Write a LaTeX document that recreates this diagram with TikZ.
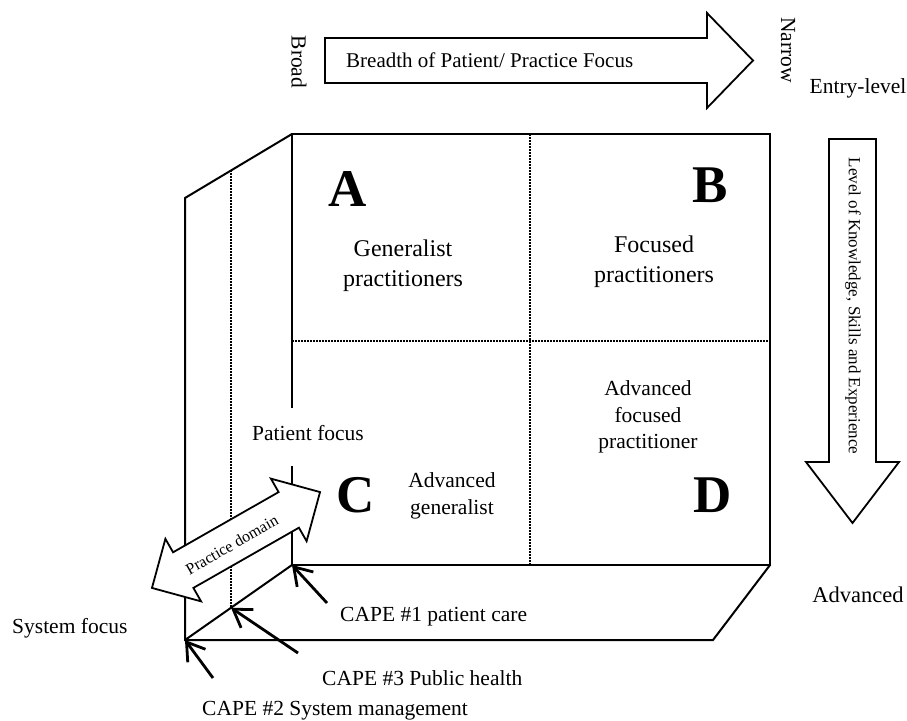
\documentclass[tikz,border=0pt]{standalone}
\usepackage{fontspec}
\setmainfont{Liberation Serif}
\usetikzlibrary{arrows.meta,calc}
\begin{document}
\begin{tikzpicture}[x=1pt,y=-1pt,
  edge/.style={line width=2pt, line join=miter},
  blockarrow/.style={line width=1.8pt, line join=miter, fill=white},
  divider/.style={line width=1.5pt, dash pattern=on 1.5pt off 1.5pt},
  cape/.style={line width=2.8pt, -{Straight Barb[length=17pt,width=22pt]}},
  lbl/.style={font=\fontsize{21.5}{26.7}\selectfont, inner sep=0pt},
  quadlbl/.style={font=\fontsize{24}{30}\selectfont, inner sep=0pt, align=center},
  letter/.style={font=\fontsize{53}{60}\selectfont\bfseries, inner sep=0pt}]
\useasboundingbox (0,0) rectangle (907,720);

% corners of the front face and of the slabs behind it
\coordinate (ftl) at (292,134);
\coordinate (ftr) at (770,134);
\coordinate (fbr) at (770,565);
\coordinate (fbl) at (292,565);
\coordinate (btl) at (185,198);
\coordinate (bbl) at (185,640);
\coordinate (bbr) at (713,640);

% outline of the block
\draw[edge] (ftl) rectangle (fbr);
\draw[edge] (ftl) -- (btl) -- (bbl) -- (bbr) -- (fbr);
\draw[edge] (bbl) -- (fbl);

% dotted dividers
\coordinate (st) at ($(btl)!0.43!(ftl)$);
\coordinate (sb) at ($(bbl)!0.43!(fbl)$);
\coordinate (vt) at ($(ftl)!0.498!(ftr)$);
\coordinate (vb) at ($(fbl)!0.498!(fbr)$);
\coordinate (hl) at ($(ftl)!0.48!(fbl)$);
\coordinate (hr) at ($(ftr)!0.48!(fbr)$);
\draw[divider] (st) -- (sb);
\draw[divider] (vt) -- (vb);
\draw[divider] (hl) -- (hr);

% breadth arrow (top)
\draw[blockarrow] (325,38) -- (707,38) -- (707,13) -- (753,60.5) -- (707,108)
  -- (707,83) -- (325,83) -- cycle;
\node[font=\fontsize{21}{25}\selectfont, inner sep=0pt, anchor=base west] (breadth) at (346,67)
  {Breadth of Patient/ Practice Focus};
\node[lbl, rotate=-90] (broad) at (299,62) {Broad};
\node[lbl, rotate=-90] (narrow) at (788,50) {Narrow};

% level arrow (right)
\draw[blockarrow] (829,139) -- (876,139) -- (876,462) -- (899,462) -- (852.5,523)
  -- (806,462) -- (829,462) -- cycle;
\node[font=\fontsize{17}{20}\selectfont, inner sep=0pt, rotate=-90] (level) at (853,306)
  {Level of Knowledge, Skills and Experience};
\node[lbl, anchor=base] (entry) at (858,93) {Entry-level};
\node[font=\fontsize{22.5}{27}\selectfont, inner sep=0pt, anchor=base] (advanced) at (858,602) {Advanced};

% quadrant letters
\node[letter, anchor=base] (qa) at (348,206) {A};
\node[letter, anchor=base] (qb) at (710,202) {B};
\node[letter, anchor=base] (qc) at (356,512) {C};
\node[letter, anchor=base] (qd) at (713,512) {D};

% quadrant descriptions
\node[quadlbl] (ta) at (403,266) {Generalist\\practitioners};
\node[quadlbl] (tb) at (654,262) {Focused\\practitioners};
\node[lbl, align=center] (tc) at (452,496) {Advanced\\generalist};
\node[lbl, align=center] (td) at (648,417) {Advanced\\focused\\practitioner};

% practice domain double arrow
\begin{scope}[shift={(236,540)}, rotate=29.7]
  \draw[blockarrow] (-96.75,0) -- (-60.75,36) -- (-60.75,20.5) -- (60.75,20.5) -- (60.75,36)
    -- (96.75,0) -- (60.75,-36) -- (60.75,-20.5) -- (-60.75,-20.5) -- (-60.75,-36) -- cycle;
  \node[font=\fontsize{16}{19}\selectfont, inner sep=0pt, rotate=29.7] (domain) at (-6,2) {Practice domain};
\end{scope}

% patient focus label on a white panel
\node[lbl, fill=white, inner xsep=12pt, inner ysep=0pt, minimum height=58pt,
  text height=14pt, text depth=8pt] (patient) at (308,437) {Patient focus};

% CAPE outcome labels and pointers
\node[lbl, anchor=base west] (system) at (12,633) {System focus};
\node[lbl, anchor=base west] (cape1) at (340,621) {CAPE \#1 patient care};
\node[lbl, anchor=base west] (cape3) at (322,685) {CAPE \#3 Public health};
\node[lbl, anchor=base west] (cape2) at (202,715) {CAPE \#2 System management};
\coordinate (p1) at (327,603);
\coordinate (p3) at (298,653);
\coordinate (p2) at (213,678);
\draw[cape] (p1) -- (fbl);
\draw[cape] (p3) -- (sb);
\draw[cape] (p2) -- (bbl);
\end{tikzpicture}
\end{document}
